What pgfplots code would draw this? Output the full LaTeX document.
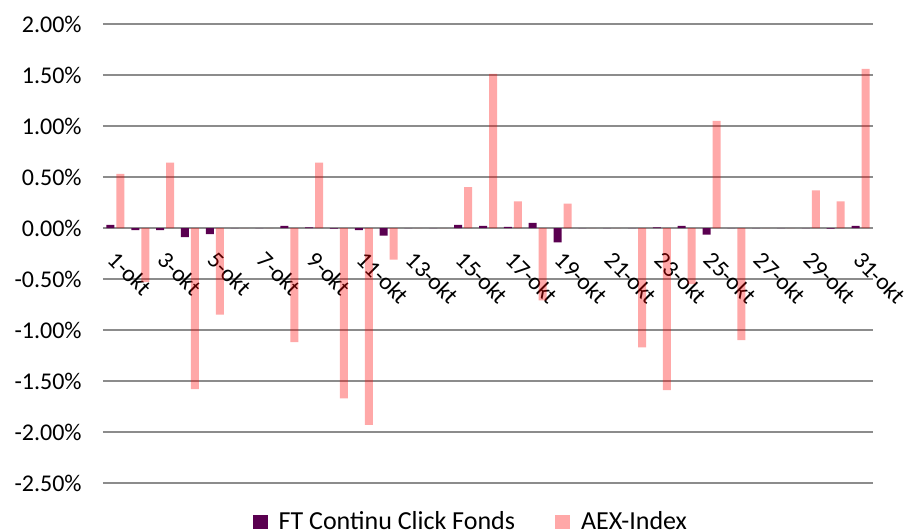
\documentclass[border=0pt]{standalone}
\usepackage{pgfplots}
\pgfplotsset{compat=1.18}
\usepackage{fontspec}
\setmainfont{Carlito}
\definecolor{ftc}{RGB}{90,0,80}
\definecolor{gridc}{RGB}{140,140,140}
\pgfplotstableread{
day ft aex
1 0.03 0.53
2 -0.02 -0.53
3 -0.02 0.64
4 -0.09 -1.58
5 -0.06 -0.85
6 0 0
7 0 0
8 0.02 -1.12
9 0.005 0.64
10 -0.005 -1.67
11 -0.02 -1.93
12 -0.075 -0.31
13 0 0
14 0 0
15 0.03 0.40
16 0.02 1.51
17 0.01 0.26
18 0.05 -0.71
19 -0.14 0.24
20 0 0
21 0 0
22 0 -1.17
23 0.005 -1.59
24 0.02 -0.55
25 -0.065 1.05
26 0 -1.10
27 0 0
28 0 0
29 0 0.37
30 -0.005 0.26
31 0.02 1.56
}\datatable
\begin{document}
\begin{tikzpicture}
\path[use as bounding box] (-51.5pt,-23.5pt) rectangle (403pt,241.5pt);
\begin{axis}[
  at={(0,0)}, anchor=south west,
  scale only axis, width=385pt, height=229.5pt,
  xmin=0.5, xmax=31.5, ymin=-2.5, ymax=2,
  ybar=1pt, bar width=4pt,
  axis line style={draw=none},
  major tick length=0pt,
  ytick={-2.5,-2,-1.5,-1,-0.5,0,0.5,1,1.5,2},
  yticklabels={-2.50\%,-2.00\%,-1.50\%,-1.00\%,-0.50\%,0.00\%,0.50\%,1.00\%,1.50\%,2.00\%},
  ymajorgrids, grid style={gridc, line width=1pt},
  xtick={1,3,5,7,9,11,13,15,17,19,21,23,25,27,29,31},
  xticklabels={1-okt,3-okt,5-okt,7-okt,9-okt,11-okt,13-okt,15-okt,17-okt,19-okt,21-okt,23-okt,25-okt,27-okt,29-okt,31-okt},
  yticklabel style={font=\fontsize{12}{14}\selectfont, anchor=east, inner sep=0pt, xshift=-10.5pt},
  xticklabel style={font=\fontsize{11.8}{14}\selectfont, xshift=1.5pt, yshift=116.8pt, rotate=-45, anchor=north west, inner sep=0pt},
  legend columns=2,
  legend style={at={(0.479,-0.085)}, anchor=center, draw=none, fill=none,
    font=\fontsize{13}{15}\selectfont,
    /tikz/every even column/.append style={column sep=18pt},
    /tikz/every odd column/.append style={column sep=3.5pt}},
  legend image code/.code={\fill[#1] (0pt,-3.5pt) rectangle (7.5pt,3.5pt);},
]
\addplot[fill=ftc, draw=none] table[x=day, y=ft] {\datatable};
\addplot[fill=red, fill opacity=0.34, draw=none] table[x=day, y=aex] {\datatable};
\legend{FT Continu Click Fonds, AEX-Index}
\end{axis}
\end{tikzpicture}
\end{document}
